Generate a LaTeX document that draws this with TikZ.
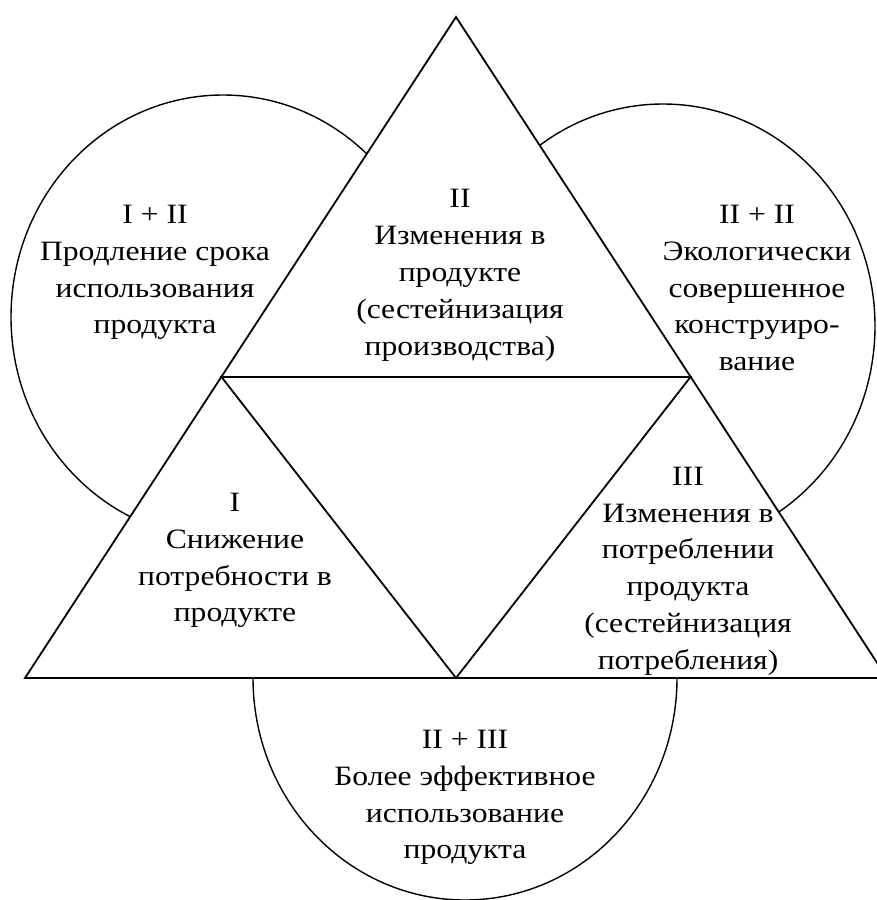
\documentclass[tikz,border=0pt]{standalone}
\usepackage{fontspec}
\setmainfont{Liberation Serif}[FakeStretch=1.13]
\begin{document}
\begin{tikzpicture}[x=1pt,y=-1pt,
  tri/.style={line width=1.8pt, line join=miter, fill=white},
  inner/.style={line width=1.8pt, line join=miter},
  circ/.style={line width=1.4pt, fill=white},
  lbl/.style={align=center, inner sep=0pt, anchor=north, font=\fontsize{28}{36.8}\selectfont}]
\useasboundingbox (0,0) rectangle (877,900);
\fill[white] (0,0) rectangle (877,900);
% ellipses behind the triangle
\draw[circ] (223,317) ellipse [x radius=212pt, y radius=222pt];
\draw[circ] (663,326) ellipse [x radius=212pt, y radius=222pt];
\draw[circ] (465,678) ellipse [x radius=212pt, y radius=222pt];
% triangle vertices
\coordinate (A) at (456,17);
\coordinate (B) at (25,678);
\coordinate (C) at (887,678);
\coordinate (L) at (221.5,377);
\coordinate (R) at (690.5,377);
\coordinate (M) at (456,678);
\draw[tri] (A) -- (B) -- (C) -- cycle;
\draw[inner] (L) -- (R) -- (M) -- cycle;
% labels
\node[lbl] (t1) at (155,205) {I + II\\Продление срока\\использования\\продукта};
\node[lbl] (t2) at (460,189.3) {II\\Изменения в\\продукте\\(сестейнизация\\производства)};
\node[lbl] (t3) at (757,205) {II + II\\Экологически\\совершенное\\конструиро-\\вание};
\node[lbl] (t4) at (235,493) {I\\Снижение\\потребности в\\продукте};
\node[lbl] (t5) at (688,466.7) {III\\Изменения в\\потреблении\\продукта\\(сестейнизация\\потребления)};
\node[lbl] (t6) at (465,730) {II + III\\Более эффективное\\использование\\продукта};
\end{tikzpicture}
\end{document}
